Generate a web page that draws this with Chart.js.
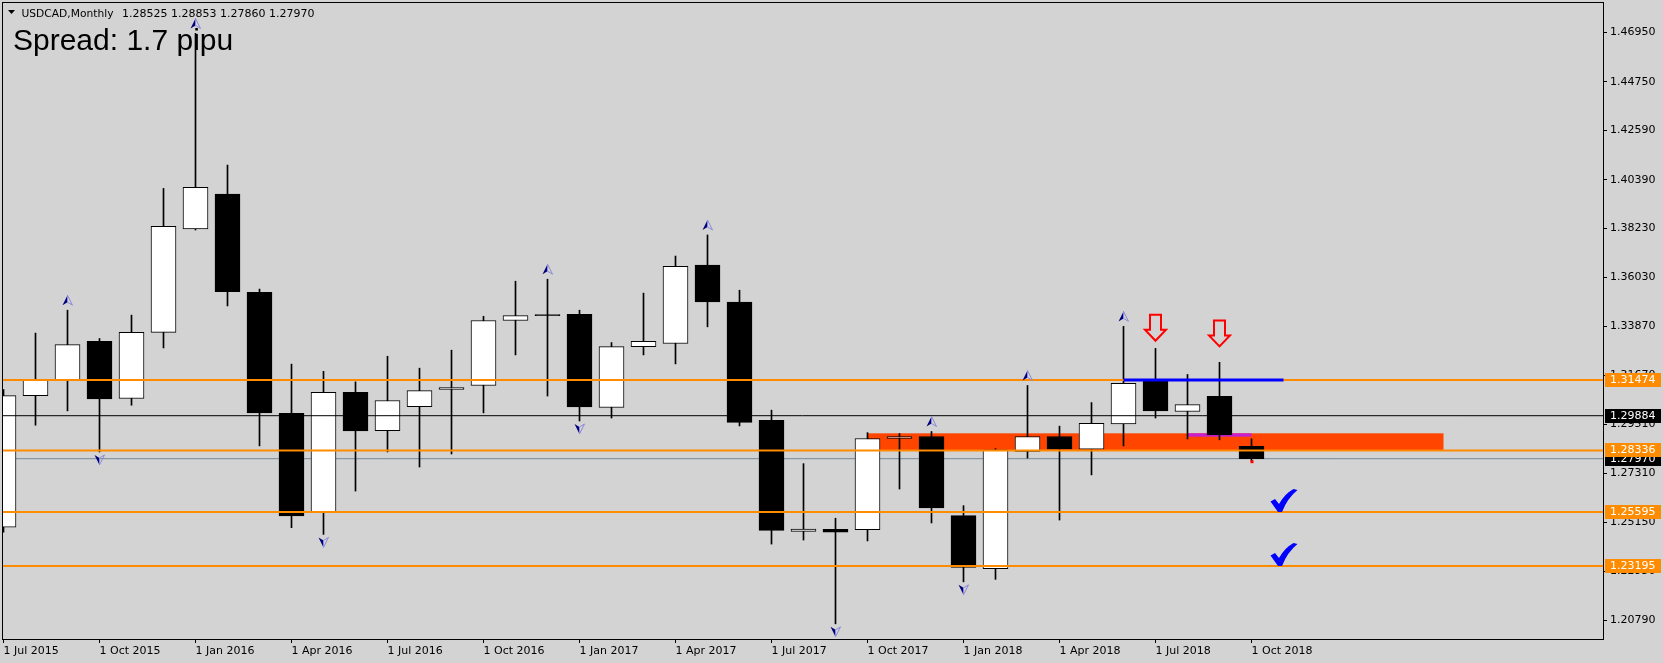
<!DOCTYPE html>
<html>
<head>
<meta charset="utf-8">
<title>USDCAD, Monthly</title>
<script src="https://cdn.jsdelivr.net/npm/chart.js@4.4.1/dist/chart.umd.min.js"></script>
<style>
    html, body { margin: 0; padding: 0; background: #d3d3d3; overflow: hidden; }
    #wrap { width: 1663px; height: 663px; }
</style>
</head>
<body>
<div id="wrap"><canvas id="chart" width="1663" height="663"></canvas></div>
<script>
// --- Data (monthly candles) ---
const months = ['Jul 2015', 'Aug 2015', 'Sep 2015', 'Oct 2015', 'Nov 2015', 'Dec 2015',
    'Jan 2016', 'Feb 2016', 'Mar 2016', 'Apr 2016', 'May 2016', 'Jun 2016',
    'Jul 2016', 'Aug 2016', 'Sep 2016', 'Oct 2016', 'Nov 2016', 'Dec 2016',
    'Jan 2017', 'Feb 2017', 'Mar 2017', 'Apr 2017', 'May 2017', 'Jun 2017',
    'Jul 2017', 'Aug 2017', 'Sep 2017', 'Oct 2017', 'Nov 2017', 'Dec 2017',
    'Jan 2018', 'Feb 2018', 'Mar 2018', 'Apr 2018', 'May 2018', 'Jun 2018',
    'Jul 2018', 'Aug 2018', 'Sep 2018', 'Oct 2018'];
const opens = [1.2492, 1.3078, 1.3146, 1.3319, 1.3065, 1.3359,
    1.3820, 1.3975, 1.3538, 1.2999, 1.2558, 1.3092,
    1.2922, 1.3029, 1.3105, 1.3123, 1.3412, 1.3434,
    1.3440, 1.3025, 1.3296, 1.3310, 1.3659, 1.3494,
    1.2968, 1.2473, 1.2483, 1.2481, 1.2887, 1.2896,
    1.2544, 1.2308, 1.2829, 1.2896, 1.2839, 1.2952,
    1.3143, 1.3007, 1.3075, 1.28525];
const highs = [1.3105, 1.3356, 1.3458, 1.3332, 1.3436, 1.4000,
    1.4690, 1.4104, 1.3552, 1.3218, 1.3186, 1.3139,
    1.3253, 1.3200, 1.3280, 1.3431, 1.3587, 1.3596,
    1.3458, 1.3314, 1.3534, 1.3699, 1.3793, 1.3547,
    1.3013, 1.2775, 1.2532, 1.2913, 1.2909, 1.2918,
    1.2588, 1.2842, 1.3123, 1.2942, 1.3047, 1.3386,
    1.3288, 1.3172, 1.3226, 1.28853];
const lows = [1.2470, 1.2946, 1.3010, 1.2827, 1.3035, 1.3290,
    1.3815, 1.3477, 1.2854, 1.2490, 1.2460, 1.2653,
    1.2827, 1.2760, 1.2818, 1.3001, 1.3259, 1.3076,
    1.2965, 1.2978, 1.3259, 1.3219, 1.3384, 1.2943,
    1.2417, 1.2435, 1.2062, 1.2431, 1.2662, 1.2511,
    1.2249, 1.2260, 1.2800, 1.2524, 1.2725, 1.2854,
    1.2978, 1.2885, 1.2881, 1.27860];
const closes = [1.3078, 1.3150, 1.3305, 1.3063, 1.3359, 1.3831,
    1.4005, 1.3540, 1.3001, 1.2542, 1.3092, 1.2921,
    1.3056, 1.3100, 1.3114, 1.3412, 1.3434, 1.3434,
    1.3027, 1.3296, 1.3319, 1.3653, 1.3495, 1.2959,
    1.2478, 1.2484, 1.2470, 1.2887, 1.2896, 1.2578,
    1.2313, 1.2836, 1.2896, 1.2840, 1.2954, 1.3132,
    1.3010, 1.3038, 1.2903, 1.27970];

const xTickIndex = [0, 3, 6, 9, 12, 15, 18, 21, 24, 27, 30, 33, 36, 39];
const xTickLabels = ['1 Jul 2015', '1 Oct 2015', '1 Jan 2016', '1 Apr 2016', '1 Jul 2016',
    '1 Oct 2016', '1 Jan 2017', '1 Apr 2017', '1 Jul 2017', '1 Oct 2017', '1 Jan 2018',
    '1 Apr 2018', '1 Jul 2018', '1 Oct 2018'];
const priceTicks = [1.46950, 1.44750, 1.42590, 1.40390, 1.38230, 1.36030, 1.33870,
    1.31670, 1.29510, 1.27310, 1.25150, 1.22950, 1.20790];

// horizontal levels and drawn objects
const levelPrices = [1.31474, 1.28336, 1.25595, 1.23195];
const pivotPrice = 1.29884;
const bidPrice = 1.27970;
const blueLineIdx = [35, 40];
const blueLinePrice = 1.31474;
const zoneIdx = [27, 45];
const zonePrices = [1.28336, 1.2910];
const magentaIdx = [37, 39];
const magentaPrices = [1.2895, 1.2910];
const fractalUp = [2, 6, 17, 22, 29, 32, 35];
const fractalDown = [3, 10, 18, 26, 30];
const signalIdx = [36, 38];
const signalPrice = [1.3322, 1.3297];
const checkIdx = [40, 40];
const checkPrice = [1.25595, 1.23195];

const symbolTitle = 'USDCAD,Monthly';
const spreadText = 'Spread: 1.7 pipu';

// --- Scale window (matches the terminal view) ---
const X_MIN = -1.5 / 32;
const X_MAX = X_MIN + 1601 / 32;
const Y_MIN = 1.19945;
const Y_MAX = 1.48254;

function hLine(price, color, width, from = X_MIN, to = X_MAX, order = 2) {
    return {
        type: 'line',
        data: [{ x: from, y: price }, { x: to, y: price }],
        borderColor: color,
        borderWidth: width,
        pointRadius: 0,
        order: order
    };
}

// --- Overlay drawing (objects, fractals, labels) ---
function drawFractal(ctx, cx, cy, up) {
    const s = up ? 1 : -1;
    ctx.beginPath();
    ctx.moveTo(cx, cy - 5 * s);
    ctx.lineTo(cx - 5, cy + 5 * s);
    ctx.lineTo(cx, cy + 2 * s);
    ctx.closePath();
    ctx.fillStyle = '#00007a';
    ctx.fill();
    ctx.beginPath();
    ctx.moveTo(cx, cy - 5 * s);
    ctx.lineTo(cx + 5, cy + 5 * s);
    ctx.lineTo(cx, cy + 2 * s);
    ctx.closePath();
    ctx.strokeStyle = '#8a8ad8';
    ctx.lineWidth = 1;
    ctx.stroke();
}

function drawSignalArrow(ctx, cx, tipY) {
    ctx.beginPath();
    ctx.moveTo(cx - 5.5, tipY - 26);
    ctx.lineTo(cx + 5.5, tipY - 26);
    ctx.lineTo(cx + 5.5, tipY - 11);
    ctx.lineTo(cx + 10.5, tipY - 11);
    ctx.lineTo(cx, tipY);
    ctx.lineTo(cx - 10.5, tipY - 11);
    ctx.lineTo(cx - 5.5, tipY - 11);
    ctx.closePath();
    ctx.strokeStyle = '#ff0000';
    ctx.lineWidth = 2;
    ctx.lineJoin = 'miter';
    ctx.stroke();
}

function drawCheck(ctx, cx, bottomY) {
    const x0 = cx - 13, y0 = bottomY - 23;
    ctx.beginPath();
    ctx.moveTo(x0 + 0, y0 + 12.5);
    ctx.lineTo(x0 + 4.5, y0 + 10);
    ctx.lineTo(x0 + 8.5, y0 + 15);
    ctx.quadraticCurveTo(x0 + 14, y0 + 5, x0 + 23, y0 + 0);
    ctx.lineTo(x0 + 27, y0 + 1);
    ctx.quadraticCurveTo(x0 + 17, y0 + 9, x0 + 11.5, y0 + 23);
    ctx.lineTo(x0 + 7.5, y0 + 23);
    ctx.closePath();
    ctx.fillStyle = '#0000ff';
    ctx.fill();
}

const overlayPlugin = {
    id: 'overlay',
    beforeDatasetsDraw(chart) {
        const { ctx, scales: { x, y } } = chart;
        ctx.save();
        ctx.fillStyle = '#ff4500';
        ctx.fillRect(x.getPixelForValue(zoneIdx[0]), y.getPixelForValue(zonePrices[1]),
            x.getPixelForValue(zoneIdx[1]) - x.getPixelForValue(zoneIdx[0]),
            y.getPixelForValue(zonePrices[0]) - y.getPixelForValue(zonePrices[1]));
        ctx.fillStyle = '#c820d0';
        ctx.fillRect(x.getPixelForValue(magentaIdx[0]), y.getPixelForValue(magentaPrices[1]),
            x.getPixelForValue(magentaIdx[1]) - x.getPixelForValue(magentaIdx[0]),
            y.getPixelForValue(magentaPrices[0]) - y.getPixelForValue(magentaPrices[1]));
        ctx.restore();
    },
    afterDatasetsDraw(chart) {
        const { ctx, scales: { x, y } } = chart;
        ctx.save();
        fractalUp.forEach(i => drawFractal(ctx, x.getPixelForValue(i), y.getPixelForValue(highs[i]) - 10, true));
        fractalDown.forEach(i => drawFractal(ctx, x.getPixelForValue(i), y.getPixelForValue(lows[i]) + 8, false));
        signalIdx.forEach((i, k) => drawSignalArrow(ctx, x.getPixelForValue(i), y.getPixelForValue(signalPrice[k])));
        checkIdx.forEach((i, k) => drawCheck(ctx, x.getPixelForValue(i), y.getPixelForValue(checkPrice[k])));

        // small red mark at the current bar low
        const last = months.length - 1;
        ctx.fillStyle = '#ff0000';
        ctx.fillRect(x.getPixelForValue(last) - 1, y.getPixelForValue(lows[last]) - 1, 3, 3);

        // plot frame
        const a = chart.chartArea;
        ctx.strokeStyle = '#000';
        ctx.lineWidth = 1;
        ctx.strokeRect(Math.round(a.left) + 0.5, Math.round(a.top) - 0.5,
            Math.round(a.right - a.left), Math.round(a.bottom - a.top) + 1);
        ctx.restore();
    },
    afterDraw(chart) {
        const { ctx, scales: { y } } = chart;
        ctx.save();
        // price tags on the right axis
        const tags = [[pivotPrice, '#000000'], [bidPrice, '#000000']]
            .concat(levelPrices.map(p => [p, '#ff8c00']));
        ctx.font = '11px "DejaVu Sans"';
        ctx.textBaseline = 'middle';
        tags.forEach(([p, bg]) => {
            const py = y.getPixelForValue(p);
            ctx.fillStyle = bg;
            ctx.fillRect(1605, Math.round(py) - 7, 56, 14);
            ctx.fillStyle = '#ffffff';
            ctx.fillText(p.toFixed(5), 1610, Math.round(py) + 0.5);
        });

        // header line
        ctx.fillStyle = '#000';
        ctx.beginPath();
        ctx.moveTo(8, 10);
        ctx.lineTo(15, 10);
        ctx.lineTo(11.5, 14);
        ctx.closePath();
        ctx.fill();
        const last = months.length - 1;
        const quote = [opens[last], highs[last], lows[last], closes[last]].map(v => v.toFixed(5)).join(' ');
        ctx.textBaseline = 'alphabetic';
        ctx.font = '11px "DejaVu Sans"';
        ctx.fillText(symbolTitle, 21.5, 16.5, 92);
        ctx.fillText(quote, 122, 16.5);

        ctx.font = '30px "Liberation Sans", Arial, sans-serif';
        ctx.fillText(spreadText, 13, 50);
        ctx.restore();
    }
};

// --- Chart ---
document.addEventListener('DOMContentLoaded', () => {
    const ctx = document.getElementById('chart').getContext('2d');

    const wickData = months.map((m, i) => ({ x: i, y: [lows[i], highs[i]] }));
    const bodyData = months.map((m, i) => ({ x: i, y: [opens[i], closes[i]] }));
    const bodyColors = months.map((m, i) => closes[i] > opens[i] ? '#ffffff' : '#000000');

    const datasets = [
        hLine(bidPrice, '#778899', 1, X_MIN, X_MAX, 10),
        {
            type: 'bar',
            data: wickData,
            backgroundColor: '#000000',
            barThickness: 1,
            grouped: false,
            order: 9
        },
        {
            type: 'bar',
            data: bodyData,
            backgroundColor: bodyColors,
            borderColor: '#000000',
            borderWidth: 1,
            borderSkipped: false,
            barThickness: 25,
            minBarLength: 1,
            grouped: false,
            order: 8
        },
        hLine(pivotPrice, '#000000', 1),
        ...levelPrices.map(p => hLine(p, '#ff8c00', 2)),
        hLine(blueLinePrice, '#0000ff', 3, blueLineIdx[0], blueLineIdx[1], 1)
    ];

    new Chart(ctx, {
        type: 'bar',
        data: { datasets },
        plugins: [overlayPlugin],
        options: {
            responsive: false,
            animation: false,
            events: [],
            layout: { padding: { left: 2, top: 3, right: 0, bottom: 0 } },
            plugins: { legend: { display: false }, tooltip: { enabled: false } },
            scales: {
                x: {
                    type: 'linear',
                    position: 'bottom',
                    min: X_MIN,
                    max: X_MAX,
                    offset: false,
                    afterFit(s) {
                        s.height = 24;
                        s.paddingLeft = 0;
                        s.paddingRight = 0;
                    },
                    afterBuildTicks(s) { s.ticks = xTickIndex.map(v => ({ value: v })); },
                    ticks: {
                        callback: (v) => {
                            const k = xTickIndex.indexOf(v);
                            return k >= 0 ? xTickLabels[k] : '';
                        },
                        align: 'start',
                        autoSkip: false,
                        maxRotation: 0,
                        padding: 2,
                        color: '#000',
                        font: { family: 'DejaVu Sans', size: 11 }
                    },
                    grid: { drawOnChartArea: false, drawTicks: true, tickLength: 4, color: '#000', offset: false },
                    border: { display: true, color: '#000' }
                },
                y: {
                    type: 'linear',
                    position: 'right',
                    min: Y_MIN,
                    max: Y_MAX,
                    afterFit(s) {
                        s.width = 60;
                        s.paddingTop = 0;
                        s.paddingBottom = 0;
                    },
                    afterBuildTicks(s) { s.ticks = priceTicks.map(v => ({ value: v })); },
                    ticks: {
                        callback: (v) => v.toFixed(5),
                        autoSkip: false,
                        padding: 3,
                        color: '#000',
                        font: { family: 'DejaVu Sans', size: 11 }
                    },
                    grid: { drawOnChartArea: false, drawTicks: true, tickLength: 4, color: '#000' },
                    border: { display: true, color: '#000' }
                }
            }
        }
    });
});
</script>
</body>
</html>
